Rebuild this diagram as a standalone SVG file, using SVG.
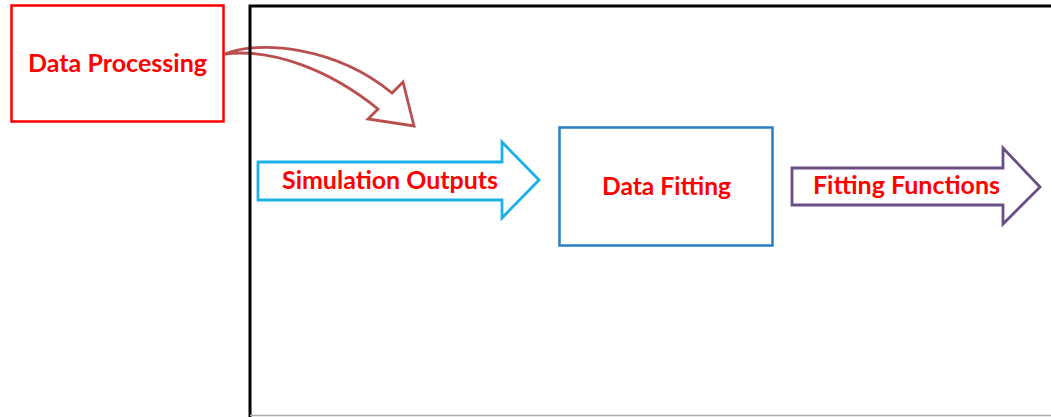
<svg xmlns="http://www.w3.org/2000/svg" width="1051" height="417" viewBox="0 0 1051 417">
  <style>
    .label { font-family: Lato, "Open Sans", "Liberation Sans", sans-serif; font-weight: bold; font-size: 25px; fill: #f00; }
    .box { fill: #fff; stroke-width: 2.5; }
    .flow { fill: #fff; stroke-width: 2.8; stroke-linejoin: miter; }
  </style>
  <rect width="1051" height="417" fill="#fff"/>

  <g id="connectors">
    <!-- curved arrow from the processing box into the frame -->
    <path class="flow" stroke="#b9504f" d="M225,54 C258,40 335,46 392,93 L403,82 L414,126 L368,119 L378,109 C330,70 272,48 225,54 Z"/>
  </g>

  <!-- enclosing frame -->
  <g id="frame">
    <path d="M1051,6 H250 V417" fill="none" stroke="#000" stroke-width="3"/>
    <line x1="250" y1="415.5" x2="1051" y2="415.5" stroke="#aaa" stroke-width="1.5"/>
  </g>

  <g id="data-processing">
    <rect class="box" x="11.5" y="5.5" width="212" height="116" stroke="#f00"/>
    <text class="label" x="28" y="72" textLength="179" lengthAdjust="spacingAndGlyphs">Data Processing</text>
  </g>

  <g id="simulation-outputs">
    <path class="flow" stroke="#1cb0e8" d="M258,162 H502 V142 L539,180 L502,218 V200 H258 Z"/>
    <text class="label" x="282" y="189" textLength="216" lengthAdjust="spacingAndGlyphs">Simulation Outputs</text>
  </g>

  <g id="data-fitting">
    <rect class="box" x="559.5" y="127.5" width="213" height="118" stroke="#2a7cc4"/>
    <text class="label" x="602" y="195" textLength="129" lengthAdjust="spacingAndGlyphs">Data Fitting</text>
  </g>

  <g id="fitting-functions">
    <path class="flow" stroke="#6a4f86" d="M792,168 H1003 V148 L1040,187 L1003,224 V205 H792 Z"/>
    <text class="label" x="813" y="194" textLength="187" lengthAdjust="spacingAndGlyphs">Fitting Functions</text>
  </g>
</svg>
